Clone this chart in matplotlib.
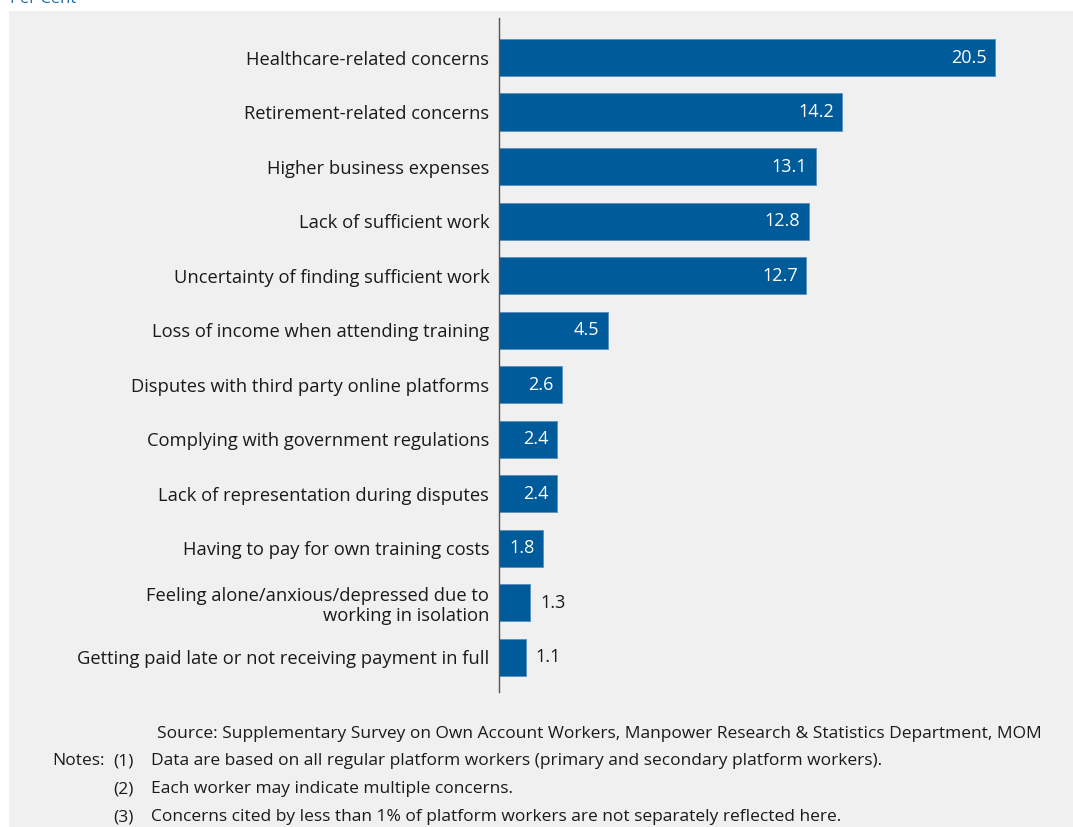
import matplotlib
matplotlib.use('Agg')
import matplotlib.pyplot as plt
from matplotlib.patches import Rectangle

# Concerns cited by platform workers, per cent
categories = [
    'Healthcare-related concerns',
    'Retirement-related concerns',
    'Higher business expenses',
    'Lack of sufficient work',
    'Uncertainty of finding sufficient work',
    'Loss of income when attending training',
    'Disputes with third party online platforms',
    'Complying with government regulations',
    'Lack of representation during disputes',
    'Having to pay for own training costs',
    'Feeling alone/anxious/depressed due to\nworking in isolation',
    'Getting paid late or not receiving payment in full',
]
values = [20.5, 14.2, 13.1, 12.8, 12.7, 4.5, 2.6, 2.4, 2.4, 1.8, 1.3, 1.1]

note_nums = ['(1)', '(2)', '(3)']
notes = [
    'Data are based on all regular platform workers (primary and secondary platform workers).',
    'Each worker may indicate multiple concerns.',
    'Concerns cited by less than 1% of platform workers are not separately reflected here.',
]
source = 'Source: Supplementary Survey on Own Account Workers, Manpower Research & Statistics Department, MOM'

plt.rcParams['font.family'] = ['Open Sans', 'DejaVu Sans']

W, H = 1073, 827
BAR = '#005b9a'
PANEL = '#f0f0f0'
INK = '#1a1a1a'


def fx(px):
    return px / W


def fy(py):
    return 1 - py / H


fig = plt.figure(figsize=(W / 100, H / 100), dpi=100)
fig.patch.set_facecolor('white')

# grey panel behind the chart and notes
fig.patches.append(Rectangle((fx(9), 0), 1 - fx(9), fy(11), transform=fig.transFigure,
                             facecolor=PANEL, edgecolor='none', zorder=-5))
fig.text(fx(10), fy(3), 'Per Cent', color='#1f6db3', fontsize=12, va='baseline', ha='left')

ax = fig.add_axes([fx(499), fy(692), fx(1060) - fx(499), fy(18) - fy(692)])
ax.set_zorder(2)
ax.set_facecolor('none')

pos = list(range(len(categories)))
ax.barh(pos, values, height=0.68, color=BAR, edgecolor='#5b8fc0', linewidth=0.6, zorder=2)
ax.set_xlim(0, 23.2)
ax.set_ylim(len(categories) - 1 + 0.64, -0.725)

ax.set_yticks(pos)
ax.set_yticklabels(categories, fontsize=13.2, color=INK, ha='right', linespacing=1.2)
ax.tick_params(axis='y', length=0, pad=7)
ax.set_xticks([])

for s in ['top', 'right', 'bottom']:
    ax.spines[s].set_visible(False)
ax.spines['left'].set_color('#555555')
ax.spines['left'].set_linewidth(1.0)

for y, v in zip(pos, values):
    if v >= 1.5:
        ax.annotate(f'{v:.1f}', (v, y), xytext=(-6, 0), textcoords='offset points',
                    ha='right', va='center', color='white', fontsize=13)
    else:
        ax.annotate(f'{v:.1f}', (v, y), xytext=(7, 0), textcoords='offset points',
                    ha='left', va='center', color=INK, fontsize=13)

fs = 12.5
fig.text(fx(157), fy(734), source, fontsize=fs, color=INK, va='center', ha='left')
fig.text(fx(52), fy(761), 'Notes:', fontsize=fs, color=INK, va='center', ha='left')
for i, (num, line) in enumerate(zip(note_nums, notes)):
    fig.text(fx(113), fy(761 + i * 28), num, fontsize=fs, color=INK, va='center', ha='left')
    fig.text(fx(151), fy(761 + i * 28), line, fontsize=fs, color=INK, va='center', ha='left')

fig.savefig('out.png', dpi=100, facecolor=fig.get_facecolor())
